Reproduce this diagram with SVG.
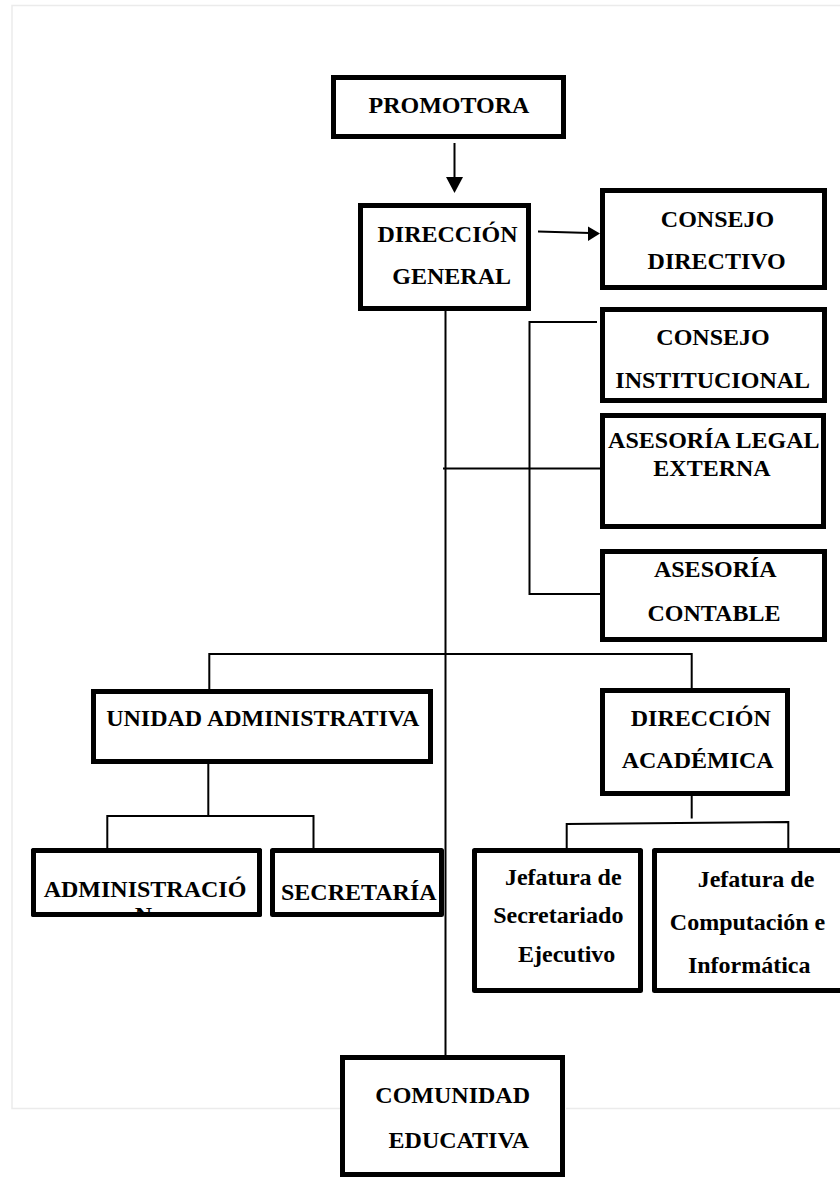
<svg xmlns="http://www.w3.org/2000/svg" width="840" height="1177" viewBox="0 0 840 1177">
<style>
.box{fill:#fff;stroke:#000;stroke-width:5}
.rbox{fill:#fff;stroke:#000;stroke-width:5;stroke-linejoin:round}
.t{font-family:"Liberation Serif","Times New Roman",serif;font-weight:bold;font-size:24px;fill:#000;text-anchor:middle}
.c{stroke:#000;stroke-width:2;fill:none}
.pg{stroke:#ebebeb;stroke-width:1.5;fill:none}
</style>
<defs>
<clipPath id="clipAdm"><rect x="31" y="848" width="231" height="69"/></clipPath>
</defs>
<rect width="840" height="1177" fill="#fff"/>
<g id="page">
<path class="pg" d="M840,5.5 H12 V1108.5 H340"/>
<path class="pg" d="M566,1108.5 H840"/>
</g>
<g id="connectors">
<line class="c" x1="454.5" y1="143" x2="454.5" y2="179" stroke-width="1.5"/>
<polygon points="446,177 463,177 454.5,193" fill="#000"/>
<line class="c" x1="538" y1="231.5" x2="590" y2="233"/>
<polygon points="588,226.5 600,233.5 588,241" fill="#000"/>
<line class="c" x1="445.5" y1="311" x2="445.5" y2="1056" stroke-width="1.5"/>
<polyline class="c" points="597,322 529.5,322 529.5,594 605,594"/>
<line class="c" x1="443" y1="468.5" x2="602" y2="468.5"/>
<polyline class="c" points="209.3,689 209.3,654 691.7,654 691.7,688"/>
<line class="c" x1="208.3" y1="764" x2="208.3" y2="816"/>
<polyline class="c" points="107.3,848 107.3,816 313.5,816 313.5,848"/>
<line class="c" x1="691.7" y1="796" x2="691.7" y2="818.5" stroke-width="2.7"/>
<polyline class="c" points="566.7,848 566.7,824 788.3,822 788.3,848"/>
</g>
<g id="n-promotora">
<rect class="box" x="333.5" y="77.5" width="230" height="59"/>
<text class="t" x="449" y="113">PROMOTORA</text>
</g>
<g id="n-direccion-general">
<rect class="box" x="360.5" y="205.5" width="168" height="103"/>
<text class="t" x="447.5" y="241.7">DIRECCIÓN</text>
<text class="t" x="451.7" y="284">GENERAL</text>
</g>
<g id="n-consejo-directivo">
<rect class="box" x="602.5" y="190.5" width="222" height="97"/>
<text class="t" x="717.5" y="226.7">CONSEJO</text>
<text class="t" x="716.7" y="269.3">DIRECTIVO</text>
</g>
<g id="n-consejo-institucional">
<rect class="box" x="602.5" y="309.5" width="222" height="91"/>
<text class="t" x="713" y="345">CONSEJO</text>
<text class="t" x="712.7" y="387.7">INSTITUCIONAL</text>
</g>
<g id="n-asesoria-legal">
<rect class="box" x="602.5" y="415.5" width="221" height="111"/>
<text class="t" x="713.8" y="448.3">ASESORÍA LEGAL</text>
<text class="t" x="712" y="476">EXTERNA</text>
</g>
<g id="n-asesoria-contable">
<rect class="box" x="602.5" y="551.5" width="222" height="88"/>
<text class="t" x="715.3" y="577.3">ASESORÍA</text>
<text class="t" x="714" y="620.7">CONTABLE</text>
</g>
<g id="n-unidad-administrativa">
<rect class="box" x="93.5" y="691.5" width="337" height="70"/>
<text class="t" x="262.8" y="726">UNIDAD ADMINISTRATIVA</text>
</g>
<g id="n-direccion-academica">
<rect class="box" x="602.5" y="690.5" width="185" height="103"/>
<text class="t" x="700.8" y="726">DIRECCIÓN</text>
<text class="t" x="697.7" y="768.3">ACADÉMICA</text>
</g>
<g id="n-administracion">
<rect class="rbox" x="33.5" y="850.5" width="226" height="64"/>
<g clip-path="url(#clipAdm)">
<text class="t" x="145" y="896.7">ADMINISTRACIÓ</text>
<text class="t" x="143.5" y="923">N</text>
</g>
<rect x="33.5" y="850.5" width="226" height="64" fill="none" stroke="#000" stroke-width="5" stroke-linejoin="round"/>
</g>
<g id="n-secretaria">
<rect class="rbox" x="272.5" y="850.5" width="169" height="64"/>
<text class="t" x="358.8" y="900">SECRETARÍA</text>
</g>
<g id="n-jefatura-secretariado">
<rect class="rbox" x="474.5" y="850.5" width="166" height="140"/>
<text class="t" x="563.3" y="885">Jefatura de</text>
<text class="t" x="558.3" y="923.3">Secretariado</text>
<text class="t" x="566.7" y="961.7">Ejecutivo</text>
</g>
<g id="n-jefatura-computacion">
<rect class="rbox" x="654.5" y="850.5" width="200" height="140"/>
<text class="t" x="756" y="886.7">Jefatura de</text>
<text class="t" x="747.5" y="930">Computación e</text>
<text class="t" x="749.2" y="973.3">Informática</text>
</g>
<g id="n-comunidad-educativa">
<rect class="box" x="342.5" y="1057.5" width="220" height="117"/>
<text class="t" x="452.7" y="1103.3">COMUNIDAD</text>
<text class="t" x="458.8" y="1148.3">EDUCATIVA</text>
</g>
</svg>
